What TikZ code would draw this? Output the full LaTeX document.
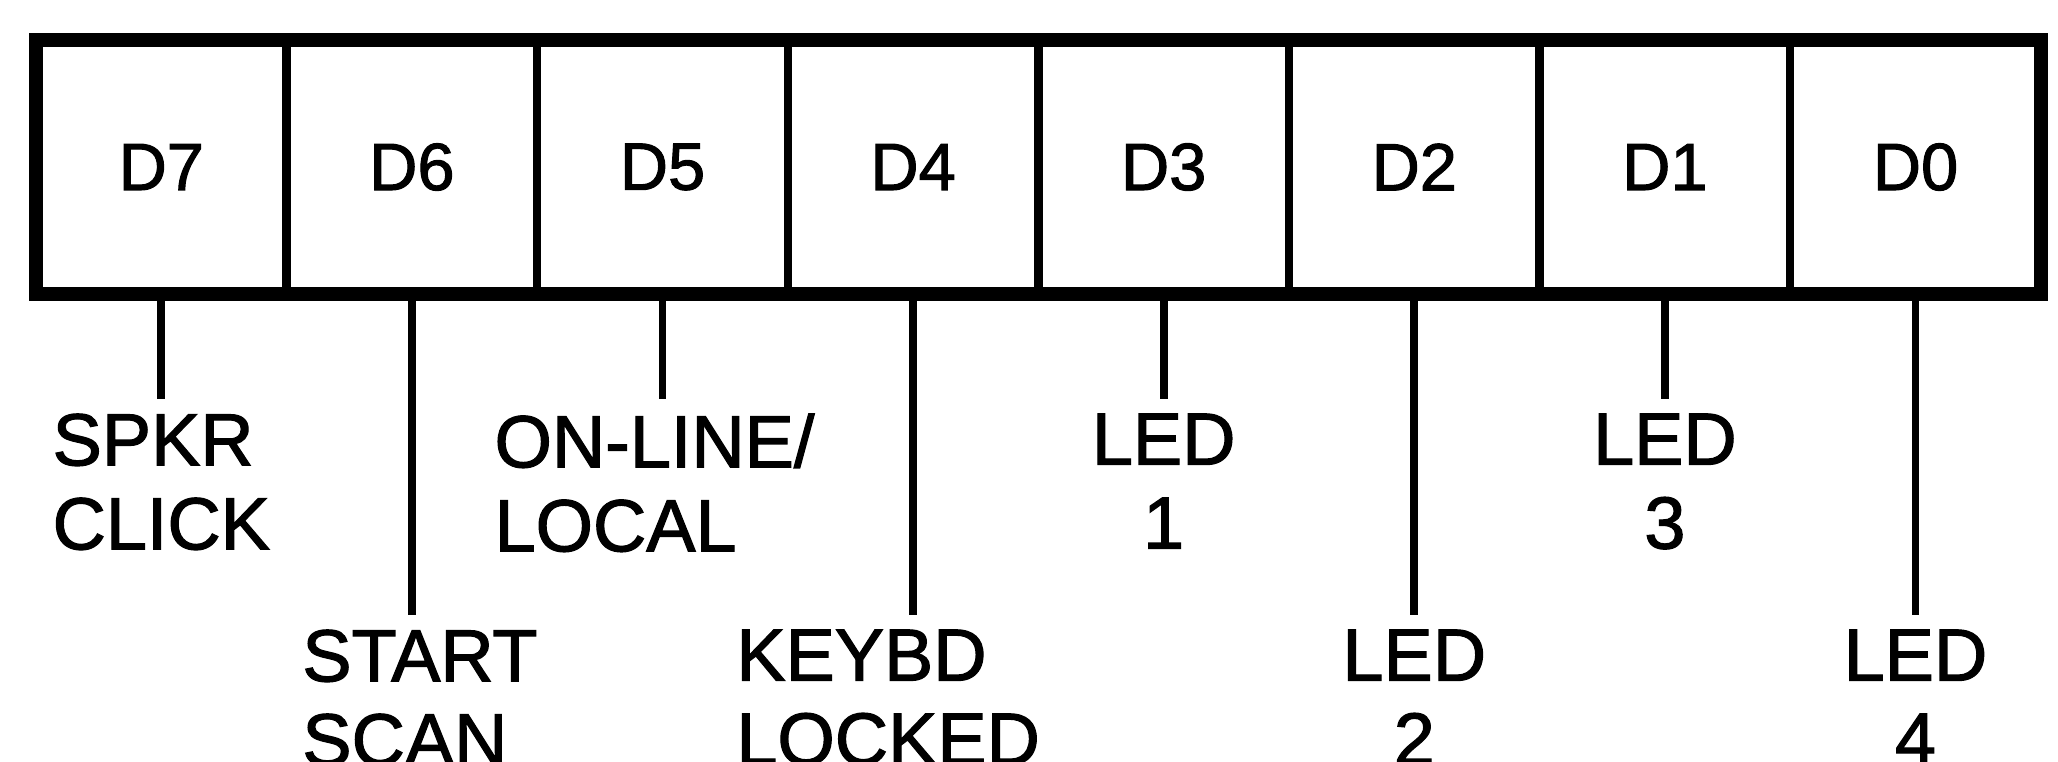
\documentclass[tikz,border=0pt]{standalone}
\usepackage{fontspec}
\setmainfont[FakeBold=1.6]{Liberation Sans}
\usetikzlibrary{positioning,fit}

\begin{document}
\begin{tikzpicture}[
  node distance=0mm,
  bit/.style={draw,line width=2.4pt,minimum width=2.506cm,minimum height=2.54cm,inner sep=0pt,outer sep=0pt,font=\fontsize{19}{22}\selectfont},
  sig/.style={align=left,inner sep=4pt,font=\fontsize{21}{23.9}\selectfont},
  led/.style={sig,align=center},
  lead/.style={line width=2.2pt}]
\useasboundingbox (0,0) rectangle (20.58,-7.61);
\node[bit] (d7) at (1.613,-1.67) {D7};
\node[bit,right=of d7] (d6) {D6};
\node[bit,right=of d6] (d5) {D5};
\node[bit,right=of d5] (d4) {D4};
\node[bit,right=of d4] (d3) {D3};
\node[bit,right=of d3] (d2) {D2};
\node[bit,right=of d2] (d1) {D1};
\node[bit,right=of d1] (d0) {D0};
\node[draw,line width=4pt,inner sep=0pt,fit=(d7)(d0)] (reg) {};
% signal names under the bits
\node[sig,below=1.05cm of d7] (spkr) {SPKR\\CLICK};
\node[sig,below=3.21cm of d6,xshift=0.08cm] (start) {START\\SCAN};
\node[sig,below=1.05cm of d5,xshift=-0.08cm] (online) {ON-LINE/\\LOCAL};
\node[sig,below=3.21cm of d4,xshift=-0.25cm] (keybd) {KEYBD\\LOCKED};
\node[led,below=1.05cm of d3] (led1) {LED\\1};
\node[led,below=3.21cm of d2] (led2) {LED\\2};
\node[led,below=1.05cm of d1] (led3) {LED\\3};
\node[led,below=3.21cm of d0] (led4) {LED\\4};
\draw[lead] (d7.south) -- (spkr.north);
\draw[lead] (d6.south) -- (d6.south |- start.north);
\draw[lead] (d5.south) -- (d5.south |- online.north);
\draw[lead] (d4.south) -- (d4.south |- keybd.north);
\draw[lead] (d3.south) -- (led1.north);
\draw[lead] (d2.south) -- (led2.north);
\draw[lead] (d1.south) -- (led3.north);
\draw[lead] (d0.south) -- (led4.north);
\end{tikzpicture}
\end{document}
